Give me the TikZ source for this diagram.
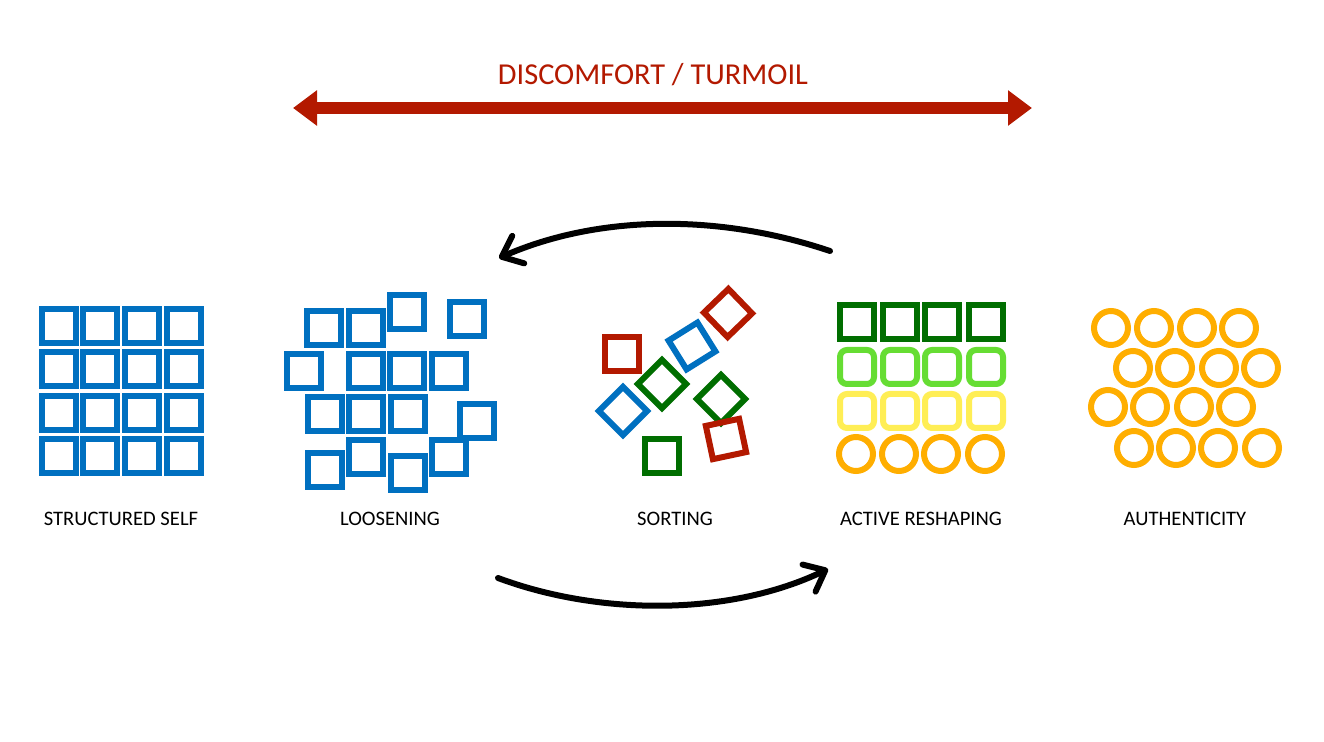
\documentclass[tikz,border=0pt]{standalone}
\usepackage{fontspec}
\setmainfont{Carlito}
\usetikzlibrary{positioning,arrows.meta}
\definecolor{selfblue}{HTML}{0070C0}
\definecolor{turmoil}{HTML}{B31900}
\definecolor{deepgreen}{HTML}{006E00}
\definecolor{leafgreen}{HTML}{66DD33}
\definecolor{softyellow}{HTML}{FFEE55}
\definecolor{amber}{HTML}{FFAE00}

\begin{document}
\begin{tikzpicture}[
  x=0.5pt,y=-0.5pt,
  font=\fontsize{10.3}{12}\selectfont,
  block/.style={draw=#1,line width=3pt,minimum size=17pt,inner sep=0pt,outer sep=0pt},
  tile/.style={block=#1,rectangle},
  softtile/.style={block=#1,rectangle,rounded corners=3.5pt},
  ring/.style={block=#1,circle},
  stagename/.style={text=black,inner sep=1pt},
  cyclearrow/.style={draw=black,line width=3pt,line cap=round,
    -{Straight Barb[length=9pt,width=15pt,line cap=round,line join=round]}}
]
\useasboundingbox[fill=white] (0,0) rectangle (1324,742);

% Turmoil band
\node[text=turmoil,font=\fontsize{15.2}{18}\selectfont] (title) at (653,75) {DISCOMFORT / TURMOIL};
\coordinate (band-l) at (293,108);
\coordinate (band-r) at (1032,108);
\draw[turmoil,line width=6pt,{Triangle[length=12pt,width=17pt]}-{Triangle[length=12pt,width=17pt]}] (band-l) -- (band-r);

% Structured self
\foreach \r [count=\j] in {326,369,413,456}
  \foreach \c [count=\i] in {59,100,142,184}
    \node[tile=selfblue] (self-\j-\i) at (\c,\r) {};

% Loosening
\foreach \x/\y [count=\i] in {324/328,366/328,407/312,467/319,
    304/371,366/371,407/371,449/371,
    325/414,366/414,408/414,477/421,
    325/470,366/457,408/473,449/457}
  \node[tile=selfblue] (loose-\i) at (\x,\y) {};

% Sorting
\node[tile=turmoil] (sort-r1) at (622,354) {};
\node[tile=turmoil,rotate=44] (sort-r2) at (728,313) {};
\node[tile=selfblue,rotate=32] (sort-b1) at (692,346) {};
\node[tile=deepgreen,rotate=45] (sort-g1) at (662,384) {};
\node[tile=selfblue,rotate=45] (sort-b2) at (623,411) {};
\node[tile=deepgreen,rotate=45] (sort-g2) at (721,399) {};
\node[tile=turmoil,rotate=12] (sort-r3) at (726,439) {};
\node[tile=deepgreen] (sort-g3) at (662,456) {};

% Active reshaping
\foreach \c [count=\i] in {857,900,942,986} {
  \node[tile=deepgreen] (shape-1-\i) at (\c,322) {};
  \node[softtile=leafgreen] (shape-2-\i) at (\c,367) {};
  \node[softtile=softyellow] (shape-3-\i) at (\c,411) {};
  \node[ring=amber] (shape-4-\i) at (\c-1,454) {};
}

% Authenticity
\foreach \c [count=\i] in {1111,1154,1197,1239}
  \node[ring=amber] (auth-1-\i) at (\c,328) {};
\foreach \c [count=\i] in {1133,1175,1219,1261}
  \node[ring=amber] (auth-2-\i) at (\c,368) {};
\foreach \c [count=\i] in {1108,1150,1194,1236}
  \node[ring=amber] (auth-3-\i) at (\c,407) {};
\foreach \c [count=\i] in {1134,1176,1218,1262}
  \node[ring=amber] (auth-4-\i) at (\c,448) {};

% Stage names
\node[stagename] (lbl-self) at (121,519) {STRUCTURED SELF};
\node[stagename] (lbl-loose) at (390,519) {LOOSENING};
\node[stagename] (lbl-sort) at (675,519) {SORTING};
\node[stagename] (lbl-shape) at (921,519) {ACTIVE RESHAPING};
\node[stagename] (lbl-auth) at (1185,519) {AUTHENTICITY};

% Cycle between loosening and reshaping
\coordinate (back-from) at (830,251);
\coordinate (back-to) at (499,258);
\coordinate (fwd-from) at (498,578);
\coordinate (fwd-to) at (828,569);
\draw[cyclearrow] (back-from) .. controls (720,214) and (600,214) .. (back-to);
\draw[cyclearrow] (fwd-from) .. controls (600,616) and (730,616) .. (fwd-to);

\end{tikzpicture}
\end{document}
